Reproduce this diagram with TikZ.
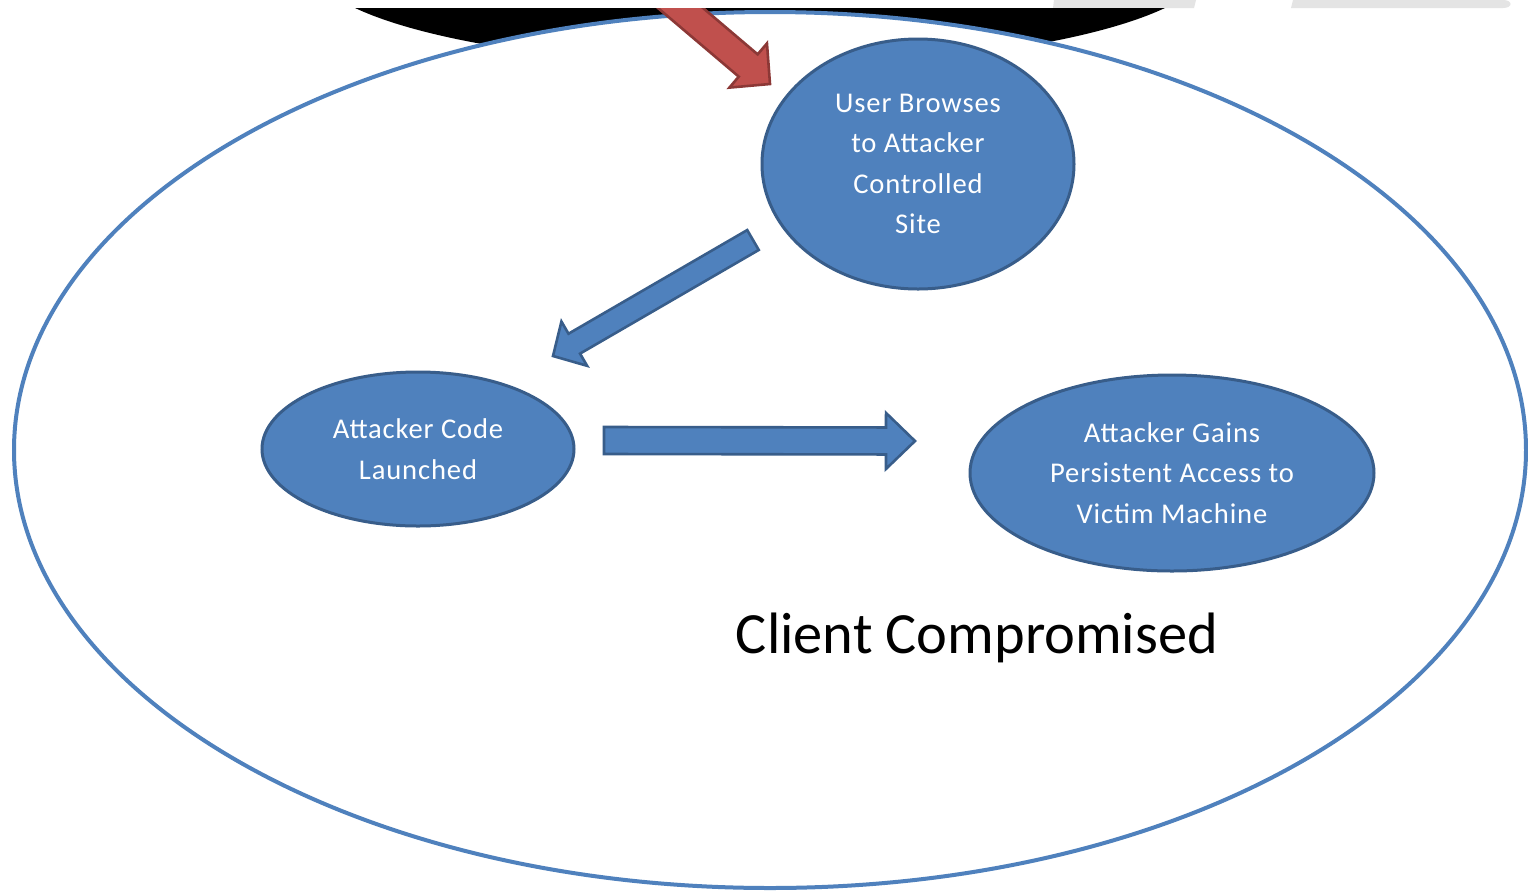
\documentclass[tikz,border=0pt]{standalone}
\usepackage{fontspec}
\setmainfont{Carlito}
\newfontfamily\bubblefont[LetterSpace=3]{Carlito}
\usetikzlibrary{shapes.geometric,calc}
\definecolor{accblue}{HTML}{4F81BD}
\definecolor{accblueline}{HTML}{385D8A}
\definecolor{accred}{HTML}{C0504D}
\definecolor{accredline}{HTML}{8C3836}
\definecolor{topgrey}{HTML}{E4E4E4}
% #1 style, #2 tail, #3 tip, #4 shaft half width, #5 head half width, #6 head length
\newcommand\blockarrow[6]{%
  \coordinate (ba-h) at ($(#3)!#6!(#2)$);
  \draw[#1] ($(#2)!#4!90:(#3)$) -- ($(ba-h)!#4!-90:(#2)$) -- ($(ba-h)!#5!-90:(#2)$) -- (#3)
    -- ($(ba-h)!#5!90:(#2)$) -- ($(ba-h)!#4!90:(#2)$) -- ($(#2)!#4!-90:(#3)$) -- cycle;}
\tikzset{
  bubble/.style={ellipse, draw=accblueline, line width=1.5pt, fill=accblue, text=white,
    align=center, inner sep=0pt, font=\bubblefont\fontsize{14.3pt}{20.3pt}\selectfont},
  blockblue/.style={draw=accblueline, fill=accblue, line width=1.3pt, line join=miter},
  blockred/.style={draw=accredline, fill=accred, line width=1.3pt, line join=miter},
}
\begin{document}
\begin{tikzpicture}[x=0.5pt,y=-0.5pt]
\useasboundingbox (0,0) rectangle (1528,891);
\fill[white] (0,0) rectangle (1528,891);
\fill[topgrey] (1054,0) -- (1196,0) -- (1194,8) -- (1053,8) -- cycle;
\fill[topgrey] (1293,0) -- (1503,0) .. controls (1513,0) and (1513,8) .. (1503,8) -- (1291,8) -- cycle;
\begin{scope}
  \clip (0,8) rectangle (1528,891);
  \fill[black] (760,-37) ellipse [x radius=225pt, y radius=51.5pt];
\end{scope}
\draw[accblue, line width=2pt, fill=white] (770,450) ellipse [x radius=378pt, y radius=219pt];
\begin{scope}
  \clip (0,8) rectangle (1528,891);
  \coordinate (redtail) at (664,-6);
  \coordinate (redtip) at (770,84);
  \blockarrow{blockred}{redtail}{redtip}{7.3pt}{14.5pt}{14.3pt}
\end{scope}
\node[bubble, minimum width=156pt, minimum height=125pt] (browse) at (918,164)
  {User Browses\\to Attacker\\Controlled\\Site};
\node[bubble, minimum width=156pt, minimum height=77pt] (code) at (418,449)
  {Attacker Code\\Launched};
\node[bubble, minimum width=202pt, minimum height=98pt] (gains) at (1172,473)
  {Attacker Gains\\Persistent Access to\\Victim Machine};
\coordinate (a1tail) at (753,240);
\coordinate (a1tip) at (553,356);
\blockarrow{blockblue}{a1tail}{a1tip}{5.75pt}{12.8pt}{12.3pt}
\coordinate (a2tail) at (604,440.5);
\coordinate (a2tip) at (915,441);
\blockarrow{blockblue}{a2tail}{a2tip}{6.75pt}{14pt}{14.5pt}
\node[font=\fontsize{29.2pt}{35pt}\selectfont] (label) at (977,638) {Client Compromised};
\end{tikzpicture}
\end{document}
